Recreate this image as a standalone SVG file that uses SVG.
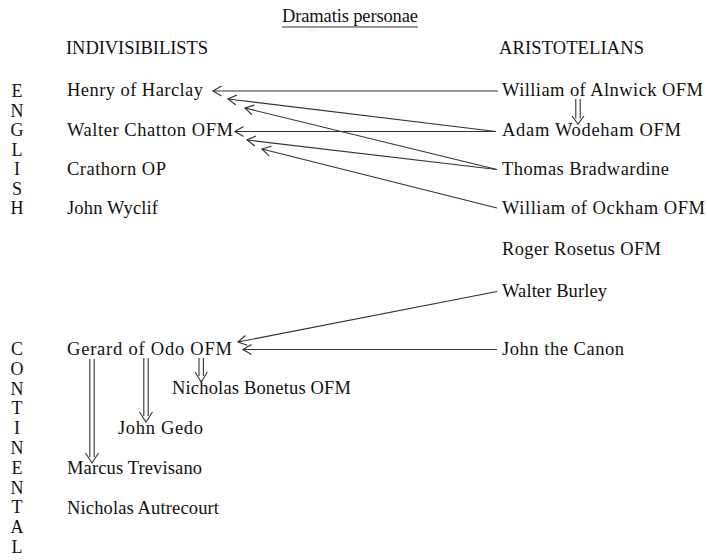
<svg xmlns="http://www.w3.org/2000/svg" width="708" height="560" viewBox="0 0 708 560">
<defs>
<style>
text{font-family:"Liberation Serif","Times New Roman",serif;font-size:18.5px;fill:#111}
.side{text-anchor:middle;font-size:18px}
.ln{stroke:#333;stroke-width:1.1;fill:none}
.dbl{stroke:#333;stroke-width:1.1;fill:none}
</style>
<marker id="ah" markerUnits="userSpaceOnUse" markerWidth="20" markerHeight="20" refX="0" refY="0" viewBox="-10 -10 20 20" orient="auto" overflow="visible">
<path d="M-8.5,-5 L0,0 L-8.5,5" fill="none" stroke="#333" stroke-width="1.2"/>
</marker>
</defs>
<rect width="708" height="560" fill="#fff"/>

<g id="title">
<text x="350" y="22" text-anchor="middle" textLength="136">Dramatis personae</text>
<line x1="282" y1="27" x2="418" y2="27" stroke="#333" stroke-width="1"/>
</g>
<g id="head-indiv"><text x="66" y="54" textLength="142">INDIVISIBILISTS</text></g>
<g id="head-arist"><text x="499" y="54" textLength="145">ARISTOTELIANS</text></g>

<g id="side-english">
<text class="side" x="17" y="97">E</text>
<text class="side" x="17" y="116.5">N</text>
<text class="side" x="17" y="136">G</text>
<text class="side" x="17" y="155.5">L</text>
<text class="side" x="17" y="175">I</text>
<text class="side" x="17" y="194.5">S</text>
<text class="side" x="17" y="214">H</text>
</g>
<g id="side-continental">
<text class="side" x="17" y="355">C</text>
<text class="side" x="17" y="374.8">O</text>
<text class="side" x="17" y="394.6">N</text>
<text class="side" x="17" y="414.4">T</text>
<text class="side" x="17" y="434.2">I</text>
<text class="side" x="17" y="454">N</text>
<text class="side" x="17" y="473.8">E</text>
<text class="side" x="17" y="493.6">N</text>
<text class="side" x="17" y="513.4">T</text>
<text class="side" x="17" y="533.2">A</text>
<text class="side" x="17" y="553">L</text>
</g>

<g id="henry"><text x="67" y="96" textLength="136">Henry of Harclay</text></g>
<g id="chatton"><text x="67" y="136" textLength="166">Walter Chatton OFM</text></g>
<g id="crathorn"><text x="67" y="175" textLength="99">Crathorn OP</text></g>
<g id="wyclif"><text x="67" y="214" textLength="91">John Wyclif</text></g>

<g id="alnwick"><text x="502" y="96" textLength="201">William of Alnwick OFM</text></g>
<g id="wodeham"><text x="502" y="136" textLength="179">Adam Wodeham OFM</text></g>
<g id="bradwardine"><text x="502" y="175" textLength="167">Thomas Bradwardine</text></g>
<g id="ockham"><text x="502" y="214" textLength="203">William of Ockham OFM</text></g>
<g id="rosetus"><text x="502" y="255" textLength="159">Roger Rosetus OFM</text></g>
<g id="burley"><text x="502" y="297" textLength="105">Walter Burley</text></g>
<g id="canon"><text x="502" y="355" textLength="122">John the Canon</text></g>

<g id="gerard"><text x="67" y="355" textLength="165">Gerard of Odo OFM</text></g>
<g id="bonetus"><text x="172" y="394" textLength="179">Nicholas Bonetus OFM</text></g>
<g id="gedo"><text x="118" y="434" textLength="85">John Gedo</text></g>
<g id="trevisano"><text x="67" y="474" textLength="135">Marcus Trevisano</text></g>
<g id="autrecourt"><text x="67" y="514" textLength="152">Nicholas Autrecourt</text></g>

<g id="connectors">
<path class="ln" marker-end="url(#ah)" d="M498,91 L213,91"/>
<path class="ln" marker-end="url(#ah)" d="M496,131.5 L228,99"/>
<path class="ln" marker-end="url(#ah)" d="M496,131.5 L235,131.5"/>
<path class="ln" marker-end="url(#ah)" d="M497,169.5 L245,108"/>
<path class="ln" marker-end="url(#ah)" d="M497,169.5 L247,140"/>
<path class="ln" marker-end="url(#ah)" d="M497,208 L262,149"/>
<path class="ln" marker-end="url(#ah)" d="M497,291.5 L238,342"/>
<path class="ln" marker-end="url(#ah)" d="M497,349.5 L243,349.5"/>
<g id="double-arrows">
<path class="dbl" d="M575.8,99 V118.5 M580.2,99 V118.5 M572,116 L578,124 L584,116"/>
<path class="dbl" d="M89.8,359 V457 M94.2,359 V457 M85.5,453 L92,463 L98.5,453"/>
<path class="dbl" d="M143.8,358 V416 M148.2,358 V416 M139.5,412 L146,422 L152.5,412"/>
<path class="dbl" d="M199,358 V376 M203.4,358 V376 M195,372 L201.2,382 L207.4,372"/>
</g>
</g>
</svg>
